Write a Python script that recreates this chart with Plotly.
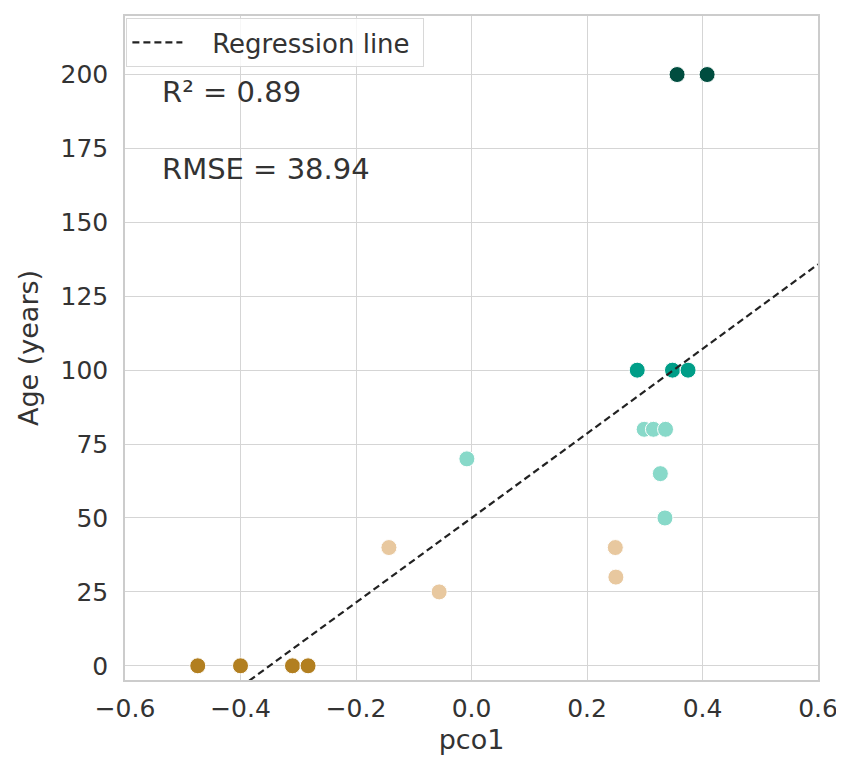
import plotly.graph_objects as go

# Data
groups = ["0", "25-40", "50-80", "100", "200"]
colors = ["#b27f20", "#e8c89f", "#88d9c9", "#009e88", "#004d3f"]
pco1_by_group = [
    [-0.474, -0.400, -0.310, -0.283],
    [-0.143, -0.056, 0.249, 0.250],
    [-0.008, 0.299, 0.315, 0.336, 0.327, 0.335],
    [0.287, 0.348, 0.375],
    [0.356, 0.408],
]
age_by_group = [
    [0, 0, 0, 0],
    [40, 25, 40, 30],
    [70, 80, 80, 80, 65, 50],
    [100, 100, 100],
    [200, 200],
]
reg_slope = 143.0
reg_intercept = 50.0
reg_x = [-0.6, 0.6]
x_ticks = [-0.6, -0.4, -0.2, 0.0, 0.2, 0.4, 0.6]
x_ticktext = ["−0.6", "−0.4", "−0.2", "0.0", "0.2", "0.4", "0.6"]
y_ticks = [0, 25, 50, 75, 100, 125, 150, 175, 200]
legend_label = "Regression line"
r2_text = "R² = 0.89"
rmse_text = "RMSE = 38.94"

font = "DejaVu Sans"
txt = "#333333"
nb = "\u00a0"
fig = go.Figure()

for g, c, xs, ys in zip(groups, colors, pco1_by_group, age_by_group):
    fig.add_trace(go.Scatter(
        x=xs, y=ys, mode="markers", name=g, showlegend=False,
        marker=dict(color=c, size=16, line=dict(color="white", width=1)),
    ))

fig.add_trace(go.Scatter(
    x=reg_x, y=[reg_intercept + reg_slope * v for v in reg_x],
    mode="lines", name=nb * 3 + legend_label + nb,
    line=dict(color="#222222", width=2.2, dash="7px,4px"),
))

fig.add_annotation(x=0.05, y=0.886, xref="paper", yref="paper", text=r2_text,
                   showarrow=False, xanchor="left", yanchor="middle",
                   font=dict(family=font, size=29, color=txt))
fig.add_annotation(x=0.05, y=0.769, xref="paper", yref="paper", text=rmse_text,
                   showarrow=False, xanchor="left", yanchor="middle",
                   font=dict(family=font, size=29, color=txt))

axis_common = dict(
    showgrid=True, gridcolor="#d5d5d5", gridwidth=1.3,
    zeroline=False, showline=True, linecolor="#cccccc", linewidth=1.5, mirror=True,
    ticks="outside", tickcolor="rgba(0,0,0,0)",
    tickfont=dict(family=font, size=25, color=txt),
)
fig.update_xaxes(range=[-0.6, 0.6], tickmode="array",
                 tickvals=x_ticks, ticktext=x_ticktext, ticklen=5,
                 title=dict(text="pco1", font=dict(family=font, size=27, color=txt), standoff=8),
                 **axis_common)
fig.update_yaxes(range=[-4.8, 219.8], tickmode="array",
                 tickvals=y_ticks, ticklen=10,
                 title=dict(text="Age (years)", font=dict(family=font, size=27, color=txt), standoff=14),
                 **axis_common)

fig.update_layout(
    width=836, height=755,
    margin=dict(l=117, r=24, t=6, b=83),
    plot_bgcolor="white", paper_bgcolor="white",
    legend=dict(x=0.002, y=0.997, xanchor="left", yanchor="top",
                bgcolor="rgba(255,255,255,0.8)", bordercolor="#d8d8d8", borderwidth=1,
                font=dict(family=font, size=26, color=txt), itemwidth=50),
)

fig.write_html("out.html")
